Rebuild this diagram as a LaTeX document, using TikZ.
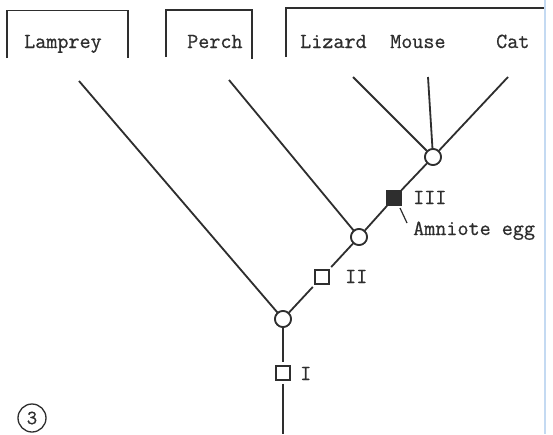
\documentclass[tikz,border=0pt]{standalone}
\usepackage{fontspec}
\newfontfamily\typefont{Latin Modern Mono}[FakeBold=0.7]
\definecolor{ink}{HTML}{2E2E2E}
\definecolor{edgeblue}{RGB}{196,218,242}
\begin{document}
\begin{tikzpicture}[x=1pt,y=-1pt,
  every node/.style={font=\fontsize{21.5}{24}\selectfont\typefont, text=ink},
  branch/.style={draw=ink, line width=1.8pt},
  frame/.style={draw=ink, line width=1.5pt},
  hub/.style={circle, draw=ink, line width=1.7pt, fill=white, minimum size=16pt, inner sep=0pt},
  trait/.style={rectangle, draw=ink, line width=1.5pt, fill=white, minimum size=14pt, inner sep=0pt},
  traitfill/.style={trait, fill=ink},
  lab/.style={anchor=base west, inner sep=0pt}]
\useasboundingbox (0,0) rectangle (553,434);
\fill[white] (0,0) rectangle (553,434);

% page edge
\draw[edgeblue, line width=2.5pt] (545,0) -- (545,434);

% group brackets
\draw[frame] (7,58) -- (7,10.5) -- (128,10.5) -- (128,58);
\draw[frame] (166,57) -- (166,10) -- (252,10) -- (252,59);
\draw[frame] (286,57) -- (286,8) -- (544,8);

% taxa
\node[lab] (tlam) at (24,48) {Lamprey};
\node[lab] (tper) at (187,48) {Perch};
\node[lab] (tliz) at (300,48) {Lizard};
\node[lab] (tmou) at (390,48) {Mouse};
\node[lab] (tcat) at (496,48) {Cat};

% branch tips and root
\coordinate (lam) at (79,81);
\coordinate (per) at (229,80);
\coordinate (liz) at (353,77);
\coordinate (mou) at (428,77);
\coordinate (cat) at (508,77);
\coordinate (root) at (283,434);

% nodes of the tree
\node[hub] (n1) at (283,319) {};
\node[hub] (n2) at (359,237) {};
\node[hub] (n3) at (433,157) {};

% character states
\node[trait] (c1) at (283,373) {};
\node[trait] (c2) at (322,277) {};
\node[traitfill] (c3) at (394,198) {};

% branches
\draw[branch] (lam) -- (n1);
\draw[branch] (per) -- (n2);
\draw[branch] (liz) -- (n3);
\draw[branch] (mou) -- (n3);
\draw[branch] (cat) -- (n3);
\draw[branch, shorten >=3pt] (n1) -- (c1);
\draw[branch, shorten <=3pt] (c1) -- (root);
\draw[branch, shorten >=3pt] (n1) -- (c2);
\draw[branch, shorten <=3pt] (c2) -- (n2);
\draw[branch] (n2) -- (c3);
\draw[branch] (c3) -- (n3);

% redraw markers above the branches
\node[hub] at (n1) {};
\node[hub] at (n2) {};
\node[hub] at (n3) {};
\node[trait] at (c1) {};
\node[trait] at (c2) {};
\node[traitfill] at (c3) {};

% state labels
\node[lab] (l1) at (300,380) {I};
\node[lab] (l2) at (345,283) {II};
\node[lab] (l3) at (413,204) {III};
\node[lab] (egg) at (413,235) {Amniote egg};
\coordinate (leadtop) at (400,208);
\coordinate (eggtip) at (407,223);
\draw[ink, line width=1.2pt] (leadtop) -- (eggtip);

% figure number
\node[circle, draw=ink, line width=1.3pt, minimum size=28pt, inner sep=0pt,
      font=\fontsize{20}{22}\selectfont\typefont] (fig) at (32,418) {3};
\end{tikzpicture}
\end{document}
